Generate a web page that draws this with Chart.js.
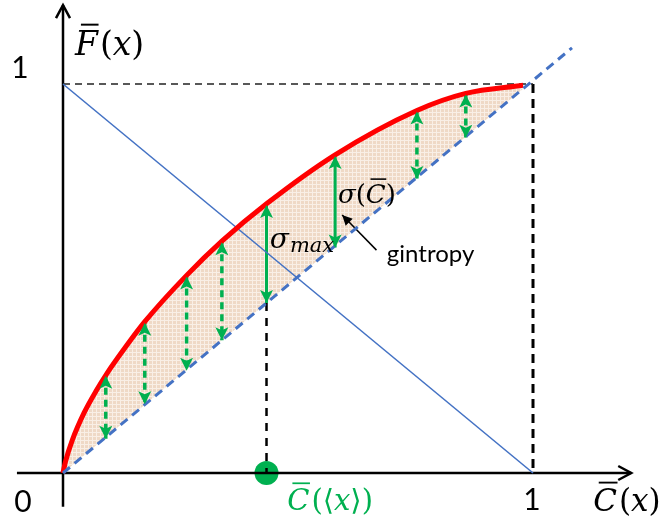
<!DOCTYPE html>
<html>
<head>
<meta charset="utf-8">
<script src="https://cdn.jsdelivr.net/npm/chart.js@4.4.0/dist/chart.umd.min.js"></script>
<style>
html,body{margin:0;padding:0;background:#fff;}
#wrap{width:662px;height:529px;position:relative;}
</style>
</head>
<body>
<div id="wrap"><canvas id="c"></canvas></div>
<script>
// ---- data (axis units: 0..1) ----
const curveX = [0, 0.005, 0.02, 0.045, 0.07, 0.093, 0.135, 0.174, 0.263, 0.338, 0.433, 0.579, 0.753, 0.857, 0.979];
const curveY = [0, 0.028, 0.085, 0.155, 0.210, 0.255, 0.327, 0.389, 0.508, 0.596, 0.692, 0.818, 0.932, 0.976, 0.997];
const diagX = [0, 1.083];
const diagY = [0, 1.093];
const antiX = [0, 1];
const antiY = [1, 0];
const dashArrowX = [0.091, 0.174, 0.263, 0.338, 0.753, 0.857];
const dashArrowTop = [0.250, 0.386, 0.505, 0.593, 0.929, 0.973];
const dashArrowBottom = [0.088, 0.177, 0.263, 0.341, 0.756, 0.862];
const solidArrowX = [0.433, 0.579];
const solidArrowTop = [0.689, 0.815];
const solidArrowBottom = [0.437, 0.580];
const meanX = 0.433;
const tickLabels = ['0', '1'];

const GREEN = '#00B050', RED = '#FF0000', BLUE = '#4472C4';

function pts(xs, ys){ return xs.map((x,i)=>({x:x, y:ys[i]})); }

// hatch pattern for gintropy area
function makePattern(){
  const c = document.createElement('canvas'); c.width = 4; c.height = 4;
  const g = c.getContext('2d');
  g.fillStyle = '#EFD9C6'; g.fillRect(0,0,4,4);
  g.fillStyle = '#F9EFE6'; g.fillRect(0,0,4,1); g.fillRect(0,0,1,4);
  return document.getElementById('c').getContext('2d').createPattern(c,'repeat');
}

const datasets = [];
function add(ds){ datasets.push(Object.assign({showLine:true, pointRadius:0, pointHoverRadius:0, fill:false, tension:0}, ds)); return datasets.length-1; }

// diagonal first (fill target)
const diagIdx = add({label:'diag', data:pts(diagX, diagY), borderColor:BLUE, borderWidth:3, borderDash:[9,6]});
add({label:'curve', data:pts(curveX, curveY), borderColor:RED, borderWidth:5, cubicInterpolationMode:'monotone',
     fill:{target:diagIdx}, backgroundColor:makePattern()});
add({label:'anti', data:pts(antiX, antiY), borderColor:BLUE, borderWidth:1.6});
// green arrows
dashArrowX.forEach((x,i)=>add({label:'da'+i, data:[{x:x,y:dashArrowTop[i]},{x:x,y:dashArrowBottom[i]}],
  borderColor:GREEN, borderWidth:3.5, borderDash:[7,5], arrowStart:'stealth', arrowEnd:'stealth', arrowColor:GREEN}));
solidArrowX.forEach((x,i)=>add({label:'sa'+i, data:[{x:x,y:solidArrowTop[i]},{x:x,y:solidArrowBottom[i]}],
  borderColor:GREEN, borderWidth:3, arrowStart:'stealth', arrowEnd:'stealth', arrowColor:GREEN}));
// guide lines
add({label:'top', data:[{x:0,y:1},{x:1,y:1}], borderColor:'#222', borderWidth:1.6, borderDash:[7,5]});
add({label:'right', data:[{x:1,y:1},{x:1,y:0}], borderColor:'#000', borderWidth:3, borderDash:[9,6]});
add({label:'mean', data:[{x:meanX,y:solidArrowBottom[0]},{x:meanX,y:0}], borderColor:'#000', borderWidth:2.5, borderDash:[8,7]});
// axes
add({label:'xaxis', data:[{x:-0.098,y:0},{x:1.209,y:0}], borderColor:'#000', borderWidth:2.5, arrowEnd:'open', arrowColor:'#000'});
add({label:'yaxis', data:[{x:0,y:-0.087},{x:0,y:1.203}], borderColor:'#000', borderWidth:2.5, arrowEnd:'open', arrowColor:'#000'});
// pointer arrow to the gintropy label
add({label:'ptr', data:[{x:0.667,y:0.573},{x:0.594,y:0.663}], borderColor:'#000', borderWidth:1.5, arrowEnd:'small', arrowColor:'#000'});
// mean point
add({label:'dot', data:[{x:meanX,y:0}], showLine:false, pointRadius:12, pointBackgroundColor:GREEN, pointBorderWidth:0, pointStyle:'circle'});

const arrowPlugin = {
  id:'arrows',
  afterDatasetsDraw(chart){
    const ctx = chart.ctx;
    chart.data.datasets.forEach((ds, i)=>{
      if(!ds.arrowStart && !ds.arrowEnd) return;
      const pts = chart.getDatasetMeta(i).data;
      const draw = (tip, from, kind)=>{
        const dx = tip.x - from.x, dy = tip.y - from.y;
        const L = Math.hypot(dx,dy); const ux = dx/L, uy = dy/L; const nx = -uy, ny = ux;
        ctx.save();
        if(kind==='open'){
          const len=13, hw=7;
          ctx.strokeStyle = ds.arrowColor; ctx.lineWidth = 2.5; ctx.lineJoin='miter';
          ctx.beginPath();
          ctx.moveTo(tip.x-ux*len+nx*hw, tip.y-uy*len+ny*hw);
          ctx.lineTo(tip.x, tip.y);
          ctx.lineTo(tip.x-ux*len-nx*hw, tip.y-uy*len-ny*hw);
          ctx.stroke();
        } else {
          const len = kind==='small'?10:13, hw = kind==='small'?5:6.5, notch = kind==='small'?0:3;
          ctx.fillStyle = ds.arrowColor;
          ctx.beginPath();
          ctx.moveTo(tip.x, tip.y);
          ctx.lineTo(tip.x-ux*len+nx*hw, tip.y-uy*len+ny*hw);
          ctx.lineTo(tip.x-ux*(len-notch), tip.y-uy*(len-notch));
          ctx.lineTo(tip.x-ux*len-nx*hw, tip.y-uy*len-ny*hw);
          ctx.closePath(); ctx.fill();
        }
        ctx.restore();
      };
      const n = pts.length;
      if(ds.arrowEnd) draw(pts[n-1], pts[n-2], ds.arrowEnd);
      if(ds.arrowStart) draw(pts[0], pts[1], ds.arrowStart);
    });
  }
};

const SERIF = '"DejaVu Serif", "Liberation Serif", serif';
const SANS = 'Lato, "Open Sans", sans-serif';
function drawMath(ctx, parts, x0, base, size, color){
  let x = x0;
  ctx.save(); ctx.fillStyle = color; ctx.strokeStyle = color; ctx.textBaseline='alphabetic'; ctx.textAlign='left';
  parts.forEach(p=>{
    const s = p.size || size;
    ctx.font = (p.it?'italic ':'') + s + 'px ' + (p.fam || SERIF);
    const w = ctx.measureText(p.t).width;
    const b = base + (p.dy||0);
    ctx.fillText(p.t, x, b);
    if(p.bar){
      ctx.lineWidth = Math.max(1.5, s*0.06);
      ctx.beginPath(); ctx.moveTo(x + s*0.18, b - s*0.92); ctx.lineTo(x + w + s*0.02, b - s*0.92); ctx.stroke();
    }
    x += w + (p.sp||0);
  });
  ctx.restore();
}

const textPlugin = {
  id:'texts',
  afterDraw(chart){
    const ctx = chart.ctx, xs = chart.scales.x, ys = chart.scales.y;
    const P = (x,y)=>[xs.getPixelForValue(x), ys.getPixelForValue(y)];
    ctx.save();
    ctx.fillStyle='#000'; ctx.textAlign='center'; ctx.textBaseline='alphabetic';
    ctx.font = '30px ' + SANS;
    let p = P(-0.0915, 1.015); ctx.fillText(tickLabels[1], p[0], p[1]);
    p = P(-0.085, -0.100); ctx.fillText(tickLabels[0], p[0], p[1]);
    p = P(0.998, -0.095); ctx.fillText(tickLabels[1], p[0], p[1]);
    ctx.textAlign='left'; ctx.font = '24px ' + SANS;
    p = P(0.689, 0.542); ctx.fillText('gintropy', p[0], p[1]);
    ctx.restore();

    p = P(0.0255, 1.0745);
    drawMath(ctx, [{t:'F',it:true,bar:true,sp:2},{t:'('},{t:'x',it:true},{t:')'}], p[0], p[1], 33, '#000');
    p = P(1.128, -0.098);
    drawMath(ctx, [{t:'C',it:true,bar:true,sp:2},{t:'('},{t:'x',it:true},{t:')'}], p[0], p[1], 31, '#000');
    p = P(0.477, -0.095);
    drawMath(ctx, [{t:'C',it:true,bar:true,sp:2},{t:'('},{t:'⟨',fam:'"DejaVu Sans", sans-serif'},{t:'x',it:true},{t:'⟩',fam:'"DejaVu Sans", sans-serif'},{t:')'}], p[0], p[1], 29, GREEN);
    p = P(0.585, 0.694);
    drawMath(ctx, [{t:'σ',it:true},{t:'('},{t:'C',it:true,bar:true},{t:')'}], p[0], p[1], 26, '#000');
    p = P(0.440, 0.578);
    drawMath(ctx, [{t:'σ',it:true,sp:1},{t:'max',it:true,size:21,dy:4}], p[0], p[1], 28, '#000');
  }
};

new Chart(document.getElementById('c'), {
  type:'scatter',
  data:{datasets:datasets},
  options:{
    responsive:true, maintainAspectRatio:false, animation:false,
    layout:{padding:0, autoPadding:false},
    scales:{
      x:{type:'linear', display:false, min:-63/470, max:(662-63)/470},
      y:{type:'linear', display:false, min:-(529-473)/389, max:473/389}
    },
    plugins:{legend:{display:false}, tooltip:{enabled:false}, filler:{drawTime:'beforeDatasetsDraw'}},
    elements:{line:{borderCapStyle:'butt'}}
  },
  plugins:[arrowPlugin, textPlugin]
});
</script>
</body>
</html>
